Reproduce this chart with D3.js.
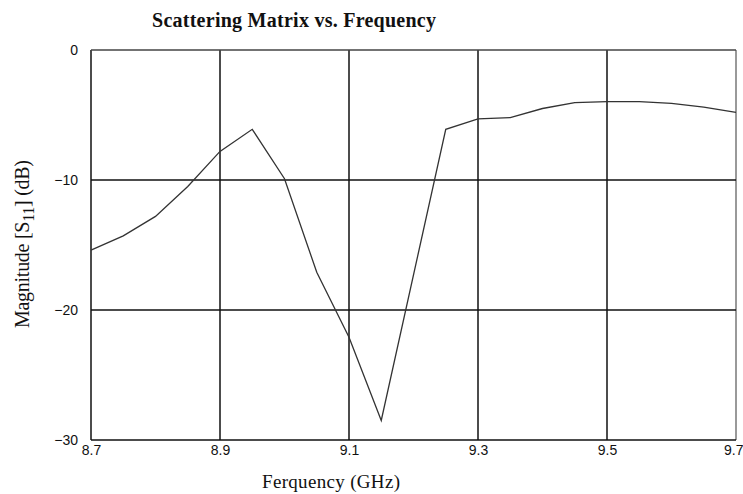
<!DOCTYPE html>
<html><head><meta charset="utf-8">
<script src="https://cdn.jsdelivr.net/npm/d3@7"></script>
<style>body{margin:0;background:#fff}</style>
</head><body>
<svg id="c" width="743" height="494"></svg>
<script>
const freq = [8.7, 8.75, 8.8, 8.85, 8.9, 8.95, 9.0, 9.05, 9.1, 9.15, 9.25, 9.3, 9.35, 9.4, 9.45, 9.5, 9.55, 9.6, 9.65, 9.7];
const s11  = [-15.4, -14.3, -12.8, -10.5, -7.8, -6.1, -9.9, -17.1, -22.1, -28.5, -6.1, -5.3, -5.2, -4.5, -4.05, -3.97, -3.97, -4.1, -4.4, -4.8];
const xTicks = [8.7, 8.9, 9.1, 9.3, 9.5, 9.7];
const yTicks = [0, -10, -20, -30];
const title = "Scattering Matrix vs. Frequency";
const xLabel = "Ferquency (GHz)";

const svg = d3.select("#c");
const L = 91, R = 736, T = 50, B = 440;
const x = d3.scaleLinear().domain([8.7, 9.7]).range([L, R]);
const y = d3.scaleLinear().domain([-30, 0]).range([B, T]);

// grid
svg.append("g").selectAll("line").data(xTicks).join("line")
  .attr("x1", d => x(d)).attr("x2", d => x(d)).attr("y1", T).attr("y2", B)
  .attr("stroke", (d,i) => (i === xTicks.length-1) ? "#777" : "#111").attr("stroke-width", 1.5);
svg.append("g").selectAll("line").data(yTicks).join("line")
  .attr("x1", L).attr("x2", R).attr("y1", d => y(d)).attr("y2", d => y(d))
  .attr("stroke", d => d === 0 ? "#444" : "#111").attr("stroke-width", 1.5);

const xa = svg.append("g").attr("transform", `translate(0,${B})`)
  .call(d3.axisBottom(x).tickValues(xTicks).tickSize(0).tickPadding(5).tickFormat(d3.format(".1f")));
xa.select(".domain").remove();
xa.selectAll("text").attr("font-family", "Liberation Sans, Arial, sans-serif").attr("font-size", 14).attr("fill", "#111")
  .attr("text-anchor", (d,i) => i === xTicks.length-1 ? "end" : "middle")
  .attr("dx", (d,i) => i === xTicks.length-1 ? 7 : 0);

const ya = svg.append("g").attr("transform", `translate(${L},0)`)
  .call(d3.axisLeft(y).tickValues(yTicks).tickSize(0).tickPadding(13).tickFormat(d3.format("d")));
ya.select(".domain").remove();
ya.selectAll("text").attr("font-family", "Liberation Sans, Arial, sans-serif").attr("font-size", 14).attr("fill", "#111");

const line = d3.line().x((d,i) => x(freq[i])).y(d => y(d));
svg.append("path").datum(s11).attr("d", line)
  .attr("fill", "none").attr("stroke", "#333").attr("stroke-width", 1.3);

svg.append("text").attr("x", 152).attr("y", 27)
  .attr("font-family", "Liberation Serif, Times New Roman, serif").attr("font-weight", "bold")
  .attr("font-size", 20).attr("fill", "#111")
  .attr("textLength", 284).attr("lengthAdjust", "spacing").text(title);

svg.append("text").attr("x", 262).attr("y", 488)
  .attr("font-family", "Liberation Serif, Times New Roman, serif")
  .attr("font-size", 19).attr("fill", "#111")
  .attr("textLength", 138).attr("lengthAdjust", "spacing").text(xLabel);

const yl = svg.append("text").attr("transform", "translate(29,328) rotate(-90)")
  .attr("font-family", "Liberation Serif, Times New Roman, serif")
  .attr("font-size", 20).attr("fill", "#111")
  .attr("textLength", 168).attr("lengthAdjust", "spacing");
yl.append("tspan").text("Magnitude [S");
yl.append("tspan").attr("dy", 5).attr("font-size", 16).text("11");
yl.append("tspan").attr("dy", -5).text("] (dB)");
</script>
</body></html>
